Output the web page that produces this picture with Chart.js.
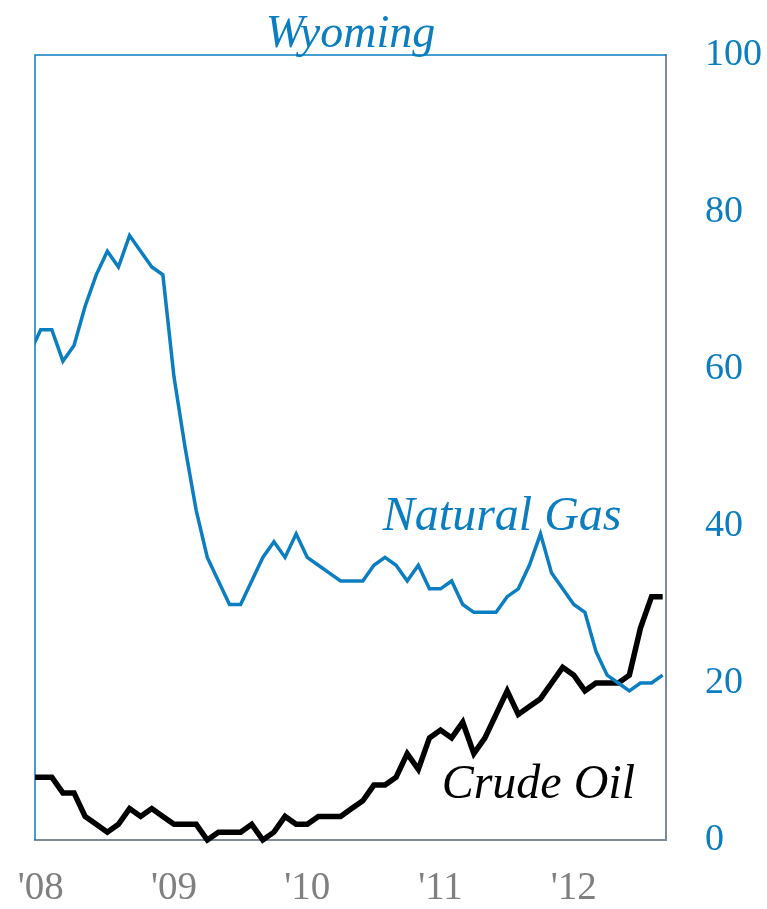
<!DOCTYPE html>
<html>
<head>
<meta charset="utf-8">
<script src="https://cdn.jsdelivr.net/npm/chart.js@4.4.0/dist/chart.umd.min.js"></script>
<style>
  html, body { margin: 0; padding: 0; background: #fff; }
  #wrap { width: 767px; height: 909px; }
</style>
</head>
<body>
<div id="wrap"><canvas id="monGraphique"></canvas></div>
<script>
// Mois (déc. 2007 -> sept. 2012)
const months = [
  '2007-12',
  '2008-01','2008-02','2008-03','2008-04','2008-05','2008-06','2008-07','2008-08','2008-09','2008-10','2008-11','2008-12',
  '2009-01','2009-02','2009-03','2009-04','2009-05','2009-06','2009-07','2009-08','2009-09','2009-10','2009-11','2009-12',
  '2010-01','2010-02','2010-03','2010-04','2010-05','2010-06','2010-07','2010-08','2010-09','2010-10','2010-11','2010-12',
  '2011-01','2011-02','2011-03','2011-04','2011-05','2011-06','2011-07','2011-08','2011-09','2011-10','2011-11','2011-12',
  '2012-01','2012-02','2012-03','2012-04','2012-05','2012-06','2012-07','2012-08','2012-09'
];

// Natural gas
const gasValues = [
  62,
  65, 65, 61, 63, 68, 72, 75, 73, 77, 75, 73, 72,
  59, 50, 42, 36, 33, 30, 30, 33, 36, 38, 36, 39,
  36, 35, 34, 33, 33, 33, 35, 36, 35, 33, 35, 32,
  32, 33, 30, 29, 29, 29, 31, 32, 35, 39, 34, 32,
  30, 29, 24, 21, 20, 19, 20, 20, 21
];

// Crude oil
const oilValues = [
  8,
  8, 8, 6, 6, 3, 2, 1, 2, 4, 3, 4, 3,
  2, 2, 2, 0, 1, 1, 1, 2, 0, 1, 3, 2,
  2, 3, 3, 3, 4, 5, 7, 7, 8, 11, 9, 13,
  14, 13, 15, 11, 13, 16, 19, 16, 17, 18, 20, 22,
  21, 19, 20, 20, 20, 21, 27, 31, 31
];

const yearLabels = ["'08", "'09", "'10", "'11", "'12"];
const yTicks = [0, 20, 40, 60, 80, 100];

const blue = '#0b7dc1';
const grey = '#7f8b96';
const serif = "'Liberation Serif', 'Times New Roman', serif";

// Étiquettes des séries (en coordonnées de données)
const seriesLabels = [
  { text: 'Natural Gas', x: 31.8, y: 39.5, color: blue },
  { text: 'Crude Oil', x: 37.1, y: 5.3, color: '#000' }
];

function toPoints(values) {
  return values.map((v, i) => ({ x: i, y: v }));
}

// pas de marge automatique autour des axes
function noPadding(scale) {
  scale.paddingLeft = 0;
  scale.paddingRight = 0;
  scale.paddingTop = 0;
  scale.paddingBottom = 0;
}

// Bordure gauche et haute en bleu + étiquettes
const decorPlugin = {
  id: 'decor',
  beforeDatasetsDraw(chart) {
    const ctx = chart.ctx;
    const a = chart.chartArea;
    ctx.save();
    ctx.strokeStyle = blue;
    ctx.lineWidth = 1.5;
    ctx.beginPath();
    ctx.moveTo(a.left, a.bottom);
    ctx.lineTo(a.left, a.top);
    ctx.lineTo(a.right, a.top);
    ctx.stroke();
    ctx.restore();
  },
  afterDatasetsDraw(chart) {
    const ctx = chart.ctx;
    const xs = chart.scales.x;
    const ys = chart.scales.y;
    ctx.save();
    ctx.font = 'italic 48px ' + serif;
    ctx.textAlign = 'left';
    ctx.textBaseline = 'alphabetic';
    seriesLabels.forEach(function(l) {
      ctx.fillStyle = l.color;
      ctx.fillText(l.text, xs.getPixelForValue(l.x), ys.getPixelForValue(l.y));
    });
    ctx.restore();
  }
};

const canvas = document.getElementById('monGraphique');
const ctx = canvas.getContext('2d');
new Chart(ctx, {
  type: 'line',
  data: {
    datasets: [{
      label: 'Natural Gas',
      data: toPoints(gasValues),
      borderColor: blue,
      borderWidth: 3.5,
      pointRadius: 0,
      tension: 0,
      clip: { left: 0, top: 0, right: 0, bottom: 5 }
    }, {
      label: 'Crude Oil',
      data: toPoints(oilValues),
      borderColor: '#000',
      borderWidth: 5.5,
      pointRadius: 0,
      tension: 0,
      clip: { left: 0, top: 0, right: 0, bottom: 5 }
    }]
  },
  options: {
    responsive: true,
    maintainAspectRatio: false,
    animation: false,
    layout: { padding: { left: 35, right: 0, top: 0, bottom: 0 } },
    plugins: {
      legend: { display: false },
      tooltip: { enabled: false },
      title: {
        display: true,
        text: 'Wyoming',
        color: blue,
        fullSize: false,
        font: { family: serif, size: 46, style: 'italic', weight: 'normal', lineHeight: 0.87 },
        padding: { top: 15, bottom: 0 }
      }
    },
    scales: {
      x: {
        type: 'linear',
        min: 0.487,
        max: 57.3,
        grid: { display: false, drawTicks: false },
        border: { display: true, color: grey, width: 2 },
        afterBuildTicks: function(scale) {
          const t = [];
          months.forEach(function(m, i) {
            if (m.endsWith('-01')) t.push({ value: i });
          });
          scale.ticks = t;
        },
        afterFit: function(scale) {
          scale.height = 69;
          noPadding(scale);
        },
        ticks: {
          color: '#808080',
          font: { family: serif, size: 39 },
          padding: 25,
          maxRotation: 0,
          autoSkip: false,
          callback: function(value) {
            const m = months[value];
            if (!m) return '';
            const idx = parseInt(m.slice(0, 4), 10) - 2008;
            return yearLabels[idx];
          }
        }
      },
      y: {
        position: 'right',
        min: 0,
        max: 100,
        grid: { display: false, drawTicks: false },
        border: { display: true, color: grey, width: 2 },
        afterBuildTicks: function(scale) {
          scale.ticks = yTicks.map(v => ({ value: v }));
        },
        afterFit: function(scale) {
          scale.width = 101;
          noPadding(scale);
        },
        ticks: {
          color: blue,
          font: { family: serif, size: 38 },
          padding: 39
        }
      }
    }
  },
  plugins: [decorPlugin]
});
</script>
</body>
</html>
